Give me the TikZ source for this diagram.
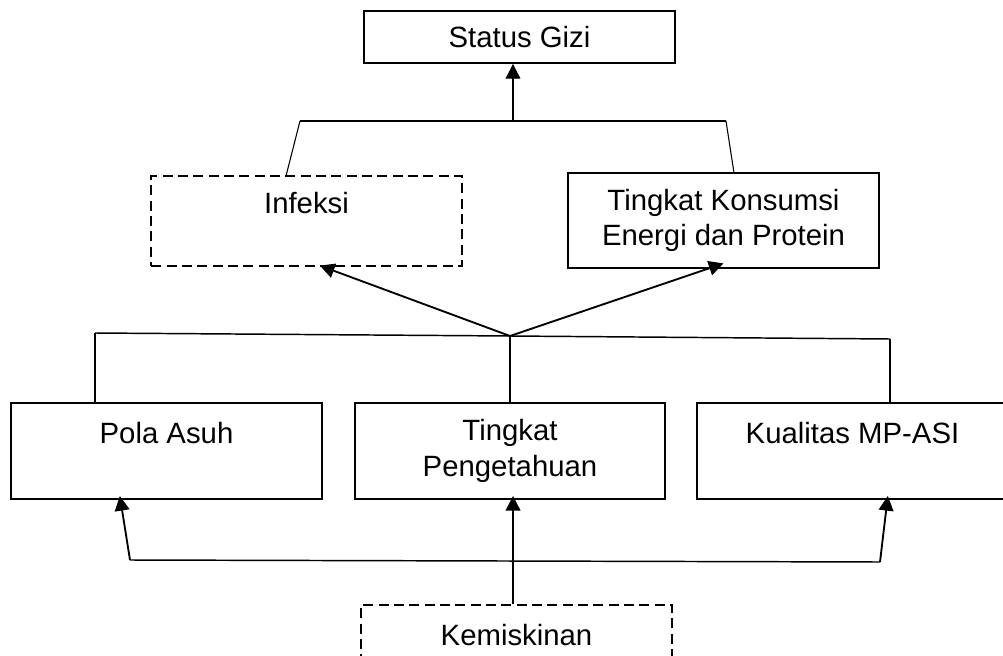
\documentclass[tikz,border=0pt]{standalone}
\usepackage{fontspec}
\setmainfont{Liberation Sans}
\usetikzlibrary{arrows.meta,positioning}

\begin{document}
\begin{tikzpicture}[x=0.75pt,y=0.75pt,yscale=-1,xscale=1,
  box/.style={draw,line width=1.4pt,minimum width=233pt,minimum height=72pt,inner sep=0pt,align=center,font=\fontsize{22}{26.5}\selectfont},
  dashbox/.style={box,dash pattern=on 7.5pt off 4pt},
  link/.style={line width=1.1pt},
  thinlink/.style={line width=0.8pt},
  arr/.style={line width=1.4pt,-{Triangle[length=11pt,width=11pt]}}]
\useasboundingbox (0,0) rectangle (1003,656);
\clip (0,0) rectangle (1003,656);

%Shape: Rectangle
\node[box,minimum height=39pt] (statusgizi) at (519.5,37) {Status Gizi};
%Shape: Rectangle (dashed)
\node[dashbox,minimum height=67.5pt] (infeksi) at (306.5,221) {Infeksi\\\mbox{}};
%Shape: Rectangle
\node[box,minimum height=71pt] (konsumsi) at (723.5,220.5) {Tingkat Konsumsi\\Energi dan Protein};
%Shape: Rectangle
\node[box] (polaasuh) at (166.5,451) {Pola Asuh\\\mbox{}};
%Shape: Rectangle
\node[box] (pengetahuan) at (510,451) {Tingkat\\Pengetahuan};
%Shape: Rectangle
\node[box] (kualitas) at (852.5,451) {Kualitas MP-ASI\\\mbox{}};
%Shape: Rectangle (dashed)
\node[dashbox] (kemiskinan) at (516.5,653) {Kemiskinan\\\mbox{}};

% junction points
\coordinate (topL) at (300,121);
\coordinate (topM) at (513,121);
\coordinate (topR) at (726,121);
\coordinate (midL) at (95,333);
\coordinate (midM) at (510,336);
\coordinate (midR) at (890,339);
\coordinate (botL) at (130,560);
\coordinate (botR) at (880,562);

%Straight Lines
\draw[thinlink] (topL) -- (topR);
\draw[thinlink] (topL) -- ([xshift=102pt]infeksi.north west);
\draw[thinlink] (topR) -- ([xshift=125pt]konsumsi.north west);
\draw[thinlink,-{Triangle[length=11pt,width=11pt]}] (topM) -- (topM |- statusgizi.south);

%Straight Lines
\draw[link] (midL) -- (midM) -- (midR);
\draw[link] (midL) -- (midL |- polaasuh.north);
\draw[link] (midM) -- (midM |- pengetahuan.north);
\draw[link] (midR) -- (midR |- kualitas.north);
\draw[arr] (midM) -- ([xshift=10pt,yshift=-1pt]infeksi.south);
\draw[arr] (midM) -- ([yshift=-4pt]konsumsi.south);

%Straight Lines
\coordinate (downP) at ([xshift=-2.6pt]kemiskinan.north);
\coordinate (upP) at ([yshift=-3pt]downP |- pengetahuan.south);
\draw[link] (botL) -- (botR);
\draw[arr] (botL) -- ([xshift=-35pt,yshift=-3pt]polaasuh.south);
\draw[arr] (botR) -- ([xshift=26.5pt,yshift=-3pt]kualitas.south);
\draw[arr] (downP) -- (upP);

\end{tikzpicture}
\end{document}
